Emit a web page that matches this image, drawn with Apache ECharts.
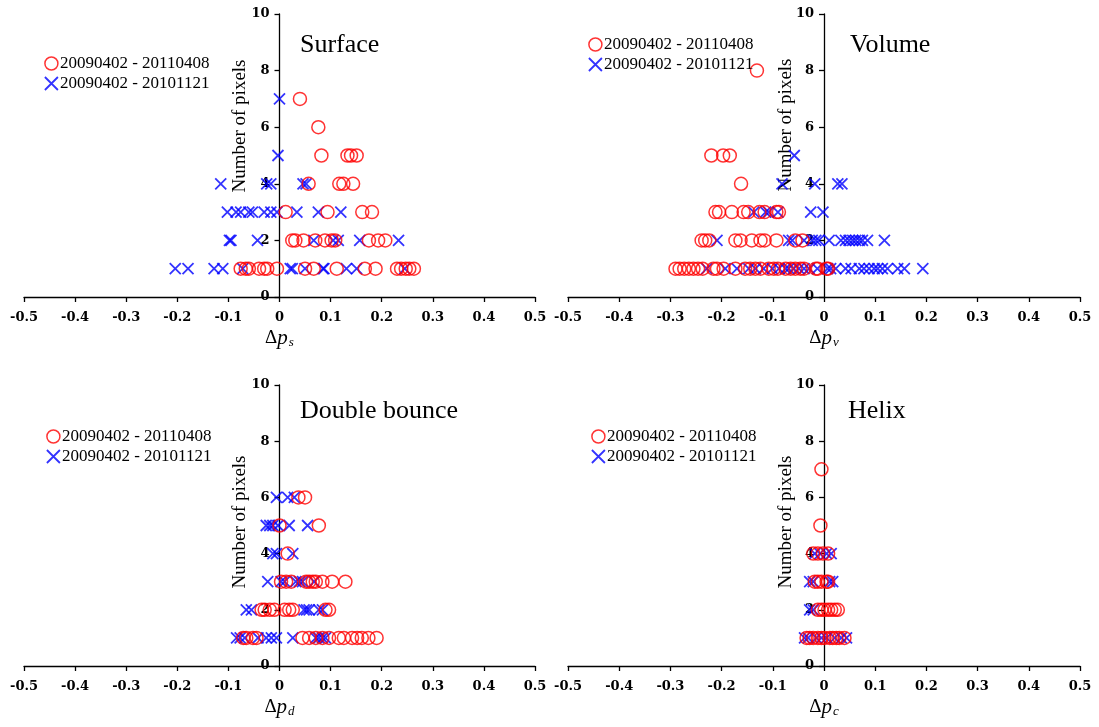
<!DOCTYPE html>
<html>
<head>
<meta charset="utf-8">
<script src="https://cdn.jsdelivr.net/npm/echarts@6/dist/echarts.min.js"></script>
<style>
html,body{margin:0;padding:0;background:#fff;}
#c{width:1099px;height:727px;}
</style>
</head>
<body>
<div id="c"></div>
<script>
// ---- data: each row is [count, dp values...] ----
const panelTitles = ['Surface', 'Volume', 'Double bounce', 'Helix'];
const panelSubs = ['s', 'v', 'd', 'c'];
const seriesNames = ['20090402 - 20110408', '20090402 - 20101121'];
const xTicks = [-0.5, -0.4, -0.3, -0.2, -0.1, 0, 0.1, 0.2, 0.3, 0.4, 0.5];
const yTicks = [0, 2, 4, 6, 8, 10];

const surfaceRed = [
  [7, 0.04],
  [6, 0.076],
  [5, 0.082, 0.133, 0.14, 0.151],
  [4, 0.057, 0.117, 0.125, 0.144],
  [3, 0.012, 0.094, 0.162, 0.181],
  [2, 0.025, 0.031, 0.047, 0.07, 0.089, 0.102, 0.109, 0.175, 0.193, 0.207],
  [1, -0.076, -0.066, -0.06, -0.04, -0.03, -0.024, -0.005, 0.05, 0.067, 0.112, 0.167, 0.188, 0.23, 0.238, 0.247, 0.254, 0.263]
];
const surfaceBlue = [
  [7, 0.0],
  [5, -0.003],
  [4, -0.115, -0.025, -0.017, 0.046, 0.052],
  [3, -0.102, -0.085, -0.076, -0.06, -0.053, -0.03, -0.017, -0.005, 0.034, 0.076, 0.12],
  [2, -0.098, -0.095, -0.043, 0.067, 0.105, 0.115, 0.157, 0.233],
  [1, -0.204, -0.179, -0.128, -0.111, -0.072, 0.021, 0.025, 0.05, 0.085, 0.087, 0.131, 0.151, 0.245]
];
const volumeRed = [
  [8, -0.131],
  [5, -0.22, -0.197, -0.184],
  [4, -0.162],
  [3, -0.212, -0.205, -0.18, -0.157, -0.148, -0.126, -0.116, -0.093, -0.088],
  [2, -0.239, -0.232, -0.224, -0.173, -0.163, -0.141, -0.124, -0.116, -0.093, -0.056, -0.042],
  [1, -0.29, -0.282, -0.273, -0.264, -0.255, -0.246, -0.237, -0.216, -0.209, -0.196, -0.173, -0.154, -0.144, -0.134, -0.124, -0.108, -0.098, -0.09, -0.075, -0.065, -0.056, -0.046, -0.039, -0.016, -0.012, 0.005, 0.008]
];
const volumeBlue = [
  [5, -0.058],
  [4, -0.082, -0.018, 0.027, 0.035],
  [3, -0.137, -0.114, -0.108, -0.09, -0.026, -0.002],
  [2, -0.209, -0.069, -0.062, -0.039, -0.023, -0.016, -0.01, 0.01, 0.033, 0.042, 0.049, 0.056, 0.062, 0.069, 0.075, 0.085, 0.118],
  [1, -0.229, -0.193, -0.17, -0.147, -0.134, -0.118, -0.101, -0.088, -0.075, -0.069, -0.059, -0.049, -0.039, -0.029, -0.013, 0.007, 0.013, 0.023, 0.042, 0.053, 0.069, 0.078, 0.088, 0.098, 0.105, 0.114, 0.124, 0.144, 0.157, 0.193]
];
const doubleRed = [
  [6, 0.037, 0.05],
  [5, 0.0, 0.077],
  [4, 0.016],
  [3, 0.003, 0.013, 0.023, 0.052, 0.058, 0.065, 0.071, 0.084, 0.103, 0.129],
  [2, -0.035, -0.029, -0.019, -0.01, 0.01, 0.019, 0.026, 0.09, 0.097],
  [1, -0.071, -0.065, -0.052, -0.045, 0.045, 0.058, 0.071, 0.084, 0.097, 0.116, 0.126, 0.142, 0.152, 0.161, 0.174, 0.19]
];
const doubleBlue = [
  [6, -0.006, 0.016, 0.029],
  [5, -0.026, -0.019, -0.013, -0.003, 0.019, 0.055],
  [4, -0.013, -0.006, 0.026],
  [3, -0.023, 0.003, 0.01, 0.032, 0.039, 0.045, 0.068],
  [2, -0.065, -0.055, 0.048, 0.053, 0.058, 0.077, 0.084],
  [1, -0.084, -0.077, -0.068, -0.042, -0.026, -0.016, -0.006, 0.026, 0.071, 0.077, 0.084, 0.09]
];
const helixRed = [
  [7, -0.005],
  [5, -0.007],
  [4, -0.021, -0.012, -0.002, 0.008],
  [3, -0.018, -0.012, -0.005, 0.005, 0.008],
  [2, -0.012, -0.005, 0.001, 0.008, 0.014, 0.021, 0.027],
  [1, -0.034, -0.028, -0.021, -0.012, -0.005, 0.001, 0.011, 0.017, 0.024, 0.03, 0.04]
];
const helixBlue = [
  [4, -0.018, -0.008, 0.005, 0.014],
  [3, -0.028, -0.021, 0.011, 0.017],
  [2, -0.028, -0.021],
  [1, -0.038, -0.031, -0.015, -0.005, 0.005, 0.021, 0.034, 0.044]
];

// ---- build ----
function expand(rows) {
  const out = [];
  rows.forEach(r => { for (let i = 1; i < r.length; i++) out.push([r[i], r[0]]); });
  return out;
}
const reds = [surfaceRed, volumeRed, doubleRed, helixRed];
const blues = [surfaceBlue, volumeBlue, doubleBlue, helixBlue];

const SERIF = 'Liberation Serif';
const TICKFONT = 'DejaVu Serif';
const grids = [
  {left: 24, top: 14, width: 511, height: 283},
  {left: 568, top: 14, width: 512, height: 283},
  {left: 24, top: 385, width: 511, height: 281},
  {left: 568, top: 385, width: 512, height: 281}
];
const titlePos = [[300, 47], [850, 47], [300, 413], [848, 413]];
const yNamePos = [[240, 126], [786, 125], [240, 522], [786, 522]];
const legendPos = [[39, 50], [583, 31], [41, 423], [586, 423]];

const XPATH = 'path://M0,0L10,10M10,0L0,10';
const redStyle = {color: 'rgba(0,0,0,0)', borderColor: '#ff0000', borderWidth: 1.5};
const blueStyle = {color: 'rgba(0,0,0,0)', borderColor: '#0000ff', borderWidth: 1.8};

const xAxes = [], yAxes = [], series = [], legends = [], graphics = [];
for (let i = 0; i < 4; i++) {
  xAxes.push({
    gridIndex: i, type: 'value', min: -0.5, max: 0.5, interval: 0.1,
    axisLine: {onZero: false, lineStyle: {color: '#000', width: 1.3}},
    axisTick: {show: true, length: 5, lineStyle: {color: '#000', width: 1.3}},
    splitLine: {show: false},
    axisLabel: {
      margin: 14, color: '#000', fontFamily: TICKFONT, fontWeight: 'bold', fontSize: 13,
      formatter: v => { const r = Math.round(v * 10) / 10; return xTicks.includes(r) ? String(r) : ''; }
    },
    name: '{d|Δ}{p|p}{s|' + panelSubs[i] + '}',
    nameLocation: 'middle', nameGap: 30,
    nameTextStyle: {
      color: '#000', fontFamily: SERIF,
      rich: {
        d: {fontFamily: SERIF, fontSize: 19, color: '#000'},
        p: {fontFamily: SERIF, fontSize: 21, fontStyle: 'italic', color: '#000'},
        s: {fontFamily: SERIF, fontSize: 13, fontStyle: 'italic', color: '#000', padding: [9, 0, 0, 1]}
      }
    }
  });
  yAxes.push({
    gridIndex: i, type: 'value', min: 0, max: 10, interval: 2,
    position: 'left', offset: -(grids[i].width / 2),
    axisLine: {show: true, onZero: false, lineStyle: {color: '#000', width: 1.3}},
    axisTick: {show: true, length: 5, lineStyle: {color: '#000', width: 1.3}},
    splitLine: {show: false},
    axisLabel: {
      margin: 10, color: '#000', fontFamily: TICKFONT, fontWeight: 'bold', fontSize: 13,
      formatter: v => yTicks.includes(v) ? String(v) : ''
    }
  });
  series.push({
    type: 'scatter', name: seriesNames[1], xAxisIndex: i, yAxisIndex: i,
    symbol: XPATH, symbolSize: 11, itemStyle: blueStyle,
    data: expand(blues[i]), silent: true
  });
  series.push({
    type: 'scatter', name: seriesNames[0], xAxisIndex: i, yAxisIndex: i,
    symbol: 'circle', symbolSize: 13, itemStyle: redStyle,
    data: expand(reds[i]), silent: true
  });
  legends.push({
    orient: 'vertical', left: legendPos[i][0], top: legendPos[i][1],
    itemWidth: 13, itemHeight: 13, itemGap: 3, selectedMode: false,
    textStyle: {fontFamily: SERIF, fontSize: 17, color: '#000', padding: [0, 0, 0, -3]},
    data: [
      {name: seriesNames[0], icon: 'circle', itemStyle: redStyle},
      {name: seriesNames[1], icon: XPATH, itemStyle: blueStyle}
    ]
  });
  graphics.push({
    type: 'text', left: titlePos[i][0], top: titlePos[i][1] - 15,
    style: {text: panelTitles[i], font: '26px "' + SERIF + '"', fill: '#000'}
  });
  graphics.push({
    type: 'text', x: yNamePos[i][0], y: yNamePos[i][1], rotation: Math.PI / 2,
    style: {text: 'Number of pixels', font: '19px "' + SERIF + '"', fill: '#000',
            textAlign: 'center', textVerticalAlign: 'middle'}
  });
}

const chart = echarts.init(document.getElementById('c'));
chart.setOption({
  animation: false,
  backgroundColor: '#fff',
  grid: grids,
  xAxis: xAxes,
  yAxis: yAxes,
  legend: legends,
  series: series,
  graphic: graphics
});
</script>
</body>
</html>
